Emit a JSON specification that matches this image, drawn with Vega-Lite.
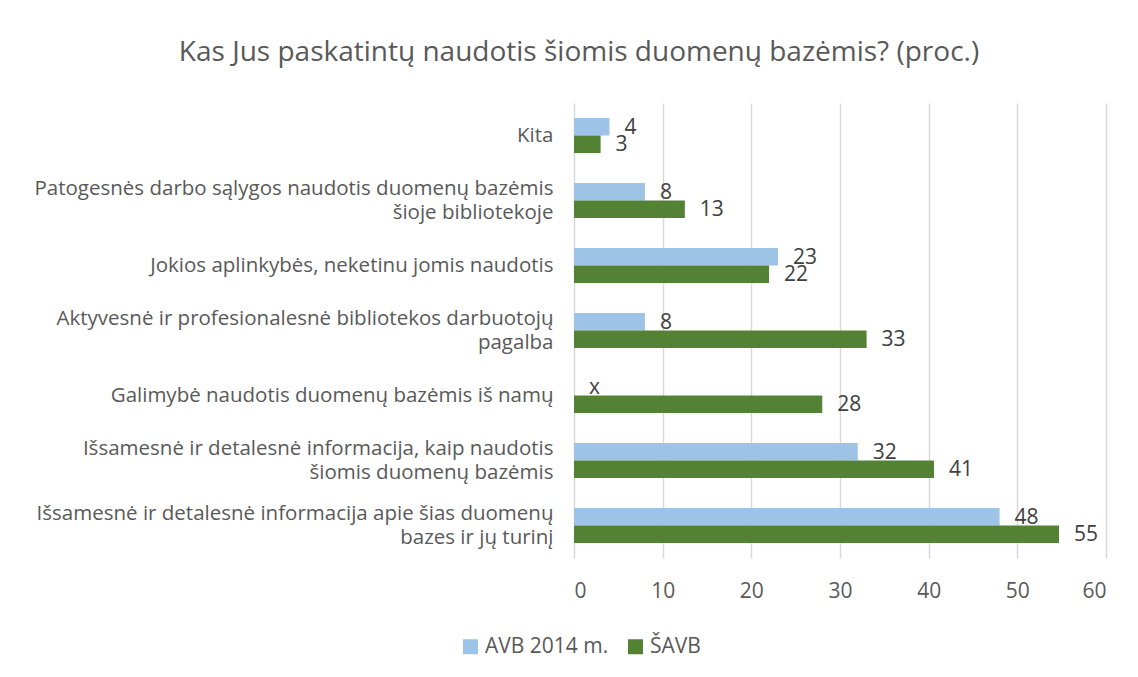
{
  "$schema": "https://vega.github.io/schema/vega-lite/v6.json",
  "width": 532,
  "height": 455,
  "autosize": "none",
  "padding": {"left": 574, "top": 103, "right": 32, "bottom": 119},
  "background": "white",
  "title": {
    "text": "Kas Jus paskatintų naudotis šiomis duomenų bazėmis? (proc.)",
    "anchor": "middle",
    "dx": -261,
    "offset": 36,
    "fontSize": 28,
    "fontWeight": "normal",
    "font": "Open Sans",
    "color": "#595959"
  },
  "data": {
    "values": [
      {"cat": "Kita", "series": "AVB 2014 m.", "value": 4, "label": "4"},
      {"cat": "Kita", "series": "ŠAVB", "value": 3, "label": "3"},
      {"cat": "Patogesnės darbo sąlygos naudotis duomenų bazėmis|šioje bibliotekoje", "series": "AVB 2014 m.", "value": 8, "label": "8"},
      {"cat": "Patogesnės darbo sąlygos naudotis duomenų bazėmis|šioje bibliotekoje", "series": "ŠAVB", "value": 12.5, "label": "13"},
      {"cat": "Jokios aplinkybės, neketinu jomis naudotis", "series": "AVB 2014 m.", "value": 23, "label": "23"},
      {"cat": "Jokios aplinkybės, neketinu jomis naudotis", "series": "ŠAVB", "value": 22, "label": "22"},
      {"cat": "Aktyvesnė ir profesionalesnė bibliotekos darbuotojų|pagalba", "series": "AVB 2014 m.", "value": 8, "label": "8"},
      {"cat": "Aktyvesnė ir profesionalesnė bibliotekos darbuotojų|pagalba", "series": "ŠAVB", "value": 33, "label": "33"},
      {"cat": "Galimybė naudotis duomenų bazėmis iš namų", "series": "AVB 2014 m.", "value": 0, "label": "x"},
      {"cat": "Galimybė naudotis duomenų bazėmis iš namų", "series": "ŠAVB", "value": 28, "label": "28"},
      {"cat": "Išsamesnė ir detalesnė informacija, kaip naudotis|šiomis duomenų bazėmis", "series": "AVB 2014 m.", "value": 32, "label": "32"},
      {"cat": "Išsamesnė ir detalesnė informacija, kaip naudotis|šiomis duomenų bazėmis", "series": "ŠAVB", "value": 40.6, "label": "41"},
      {"cat": "Išsamesnė ir detalesnė informacija apie šias duomenų|bazes ir jų turinį", "series": "AVB 2014 m.", "value": 48, "label": "48"},
      {"cat": "Išsamesnė ir detalesnė informacija apie šias duomenų|bazes ir jų turinį", "series": "ŠAVB", "value": 54.7, "label": "55"}
    ]
  },
  "encoding": {
    "y": {
      "field": "cat",
      "type": "nominal",
      "sort": null,
      "scale": {"paddingInner": 0.46, "paddingOuter": 0.23},
      "axis": {
        "title": null,
        "ticks": false,
        "domain": false,
        "labelExpr": "split(datum.value, '|')",
        "labelFontSize": 20.5,
        "labelFont": "Open Sans",
        "labelColor": "#595959",
        "labelPadding": 21,
        "labelLineHeight": 24.5,
        "labelLimit": 600,
        "labelOffset": {"condition": {"test": "indexof(datum.value, '|') >= 0", "value": -12}, "value": 0}
      }
    },
    "yOffset": {"field": "series", "type": "nominal", "sort": ["AVB 2014 m.", "ŠAVB"]},
    "x": {
      "field": "value",
      "type": "quantitative",
      "scale": {"domain": [0, 60], "nice": false},
      "axis": {
        "title": null,
        "values": [0, 10, 20, 30, 40, 50, 60],
        "ticks": false,
        "domain": false,
        "grid": true,
        "gridColor": "#D9D9D9",
        "gridWidth": 1.5,
        "labelFontSize": 21,
        "labelFont": "Open Sans",
        "labelColor": "#595959",
        "labelPadding": 22
      }
    }
  },
  "layer": [
    {
      "mark": {"type": "bar"},
      "encoding": {
        "color": {
          "field": "series",
          "type": "nominal",
          "sort": ["AVB 2014 m.", "ŠAVB"],
          "scale": {"domain": ["AVB 2014 m.", "ŠAVB"], "range": ["#9DC3E6", "#548235"]},
          "legend": {
            "title": null,
            "orient": "none",
            "direction": "horizontal",
            "legendX": -114,
            "legendY": 533,
            "symbolType": "square",
            "symbolSize": 225,
            "symbolStrokeWidth": 0,
            "labelFontSize": 21,
            "labelFont": "Open Sans",
            "labelColor": "#595959",
            "labelOffset": 4,
            "columnPadding": 16,
            "padding": 0
          }
        }
      }
    },
    {
      "mark": {"type": "text", "align": "left", "baseline": "middle", "dx": 15, "dy": 1, "fontSize": 21, "font": "Open Sans", "color": "#404040"},
      "encoding": {
        "text": {"field": "label"}
      }
    }
  ],
  "config": {"view": {"stroke": null}}
}
